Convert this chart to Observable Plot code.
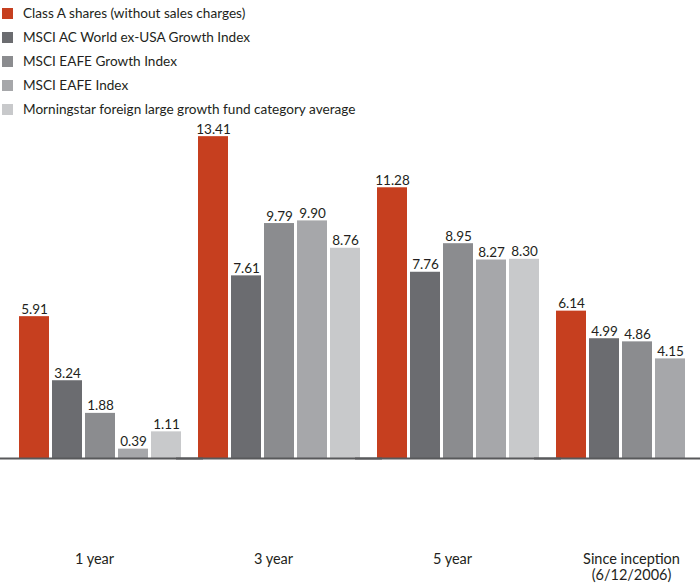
<!DOCTYPE html>
<html>
<head>
<meta charset="utf-8">
<script src="https://cdn.jsdelivr.net/npm/d3@7"></script>
<script src="https://cdn.jsdelivr.net/npm/@observablehq/plot@0.6"></script>
<style>
  html, body { margin: 0; padding: 0; background: #fff; }
  body { width: 700px; height: 584px; overflow: hidden; font-family: "Lato", "Roboto", sans-serif; color: #231f20; }
  #legend { height: 122px; box-sizing: border-box; padding-top: 1px; position: relative; z-index: 2; }
  .row { height: 24px; display: flex; align-items: center; font-size: 13.6px; }
  .sw { width: 11px; height: 11px; margin-left: 2px; margin-right: 10px; flex: none; }
  #chart { position: relative; z-index: 1; }
</style>
</head>
<body>
<div id="legend"></div>
<div id="chart"></div>
<script>
const periods = ["1 year", "3 year", "5 year", "Since inception\n(6/12/2006)"];
const seriesNames = [
  "Class A shares (without sales charges)",
  "MSCI AC World ex-USA Growth Index",
  "MSCI EAFE Growth Index",
  "MSCI EAFE Index",
  "Morningstar foreign large growth fund category average"
];
const classA = [5.91, 13.41, 11.28, 6.14];
const acwxGrowth = [3.24, 7.61, 7.76, 4.99];
const eafeGrowth = [1.88, 9.79, 8.95, 4.86];
const eafe = [0.39, 9.90, 8.27, 4.15];
const morningstar = [1.11, 8.76, 8.30, null];
const seriesColors = ["#c63f1f", "#6b6c70", "#8b8c8f", "#a6a7aa", "#c8c9cb"];

const seriesValues = [classA, acwxGrowth, eafeGrowth, eafe, morningstar];
const table = [];
seriesNames.forEach((s, i) => {
  periods.forEach((p, j) => {
    const v = seriesValues[i][j];
    if (v != null) table.push({series: s, period: p, value: v});
  });
});

// legend
const legend = document.getElementById("legend");
seriesNames.forEach((s, i) => {
  const row = document.createElement("div");
  row.className = "row";
  const sw = document.createElement("span");
  sw.className = "sw";
  sw.style.background = seriesColors[i];
  const t = document.createElement("span");
  t.textContent = s;
  row.appendChild(sw);
  row.appendChild(t);
  legend.appendChild(row);
});

const chart = Plot.plot({
  width: 700,
  height: 462,
  marginTop: 0,
  marginBottom: 126,
  marginLeft: 17,
  marginRight: -20,
  style: {fontFamily: "Lato, Roboto, sans-serif", fontSize: "13px", color: "#231f20", background: "transparent"},
  fx: {domain: periods, paddingInner: 0.0926, paddingOuter: 0, label: null, axis: null},
  x: {domain: seriesNames, paddingInner: 0.1, paddingOuter: 0, axis: null},
  y: {domain: [0, 14], axis: null},
  color: {domain: seriesNames, range: seriesColors},
  marks: [
    Plot.barY(table, {fx: "period", x: "series", y: "value", fill: "series"}),
    Plot.text(table, {fx: "period", x: "series", y: "value", text: d => d.value.toFixed(2), lineAnchor: "bottom", dy: -3, fontSize: 13.5, fill: "#231f20"}),
    Plot.ruleY([0], {stroke: "#58595b", strokeWidth: 2, insetLeft: -22, insetRight: -22}),
    Plot.axisFx({anchor: "bottom", tickSize: 0, tickPadding: 94, dx: -6, fontSize: 14.5, lineHeight: 1.1, label: null, fill: "#231f20"})
  ]
});
document.getElementById("chart").appendChild(chart);
</script>
</body>
</html>
